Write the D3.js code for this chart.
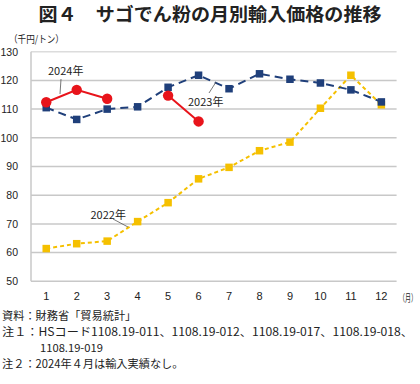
<!DOCTYPE html>
<html><head><meta charset="utf-8">
<script src="https://cdn.jsdelivr.net/npm/d3@7"></script>
<style>body{margin:0;background:#fff;}svg{display:block;font-family:"Noto Sans CJK JP","Noto Sans",sans-serif;}</style>
</head><body>
<script>
const months = [1,2,3,4,5,6,7,8,9,10,11,12];
const yTicks = [50,60,70,80,90,100,110,120,130];
const s2022 = [61.4,63.1,64.0,70.8,77.4,85.7,89.7,95.5,98.5,110.3,121.8,111.5];
const s2023 = [110.5,106.4,110.0,110.8,117.6,121.8,117.1,122.3,120.4,119.1,116.7,112.5];
const s2024 = [112.4,116.7,113.6,null,114.7,105.7,null,null,null,null,null,null];
const title = "図４　サゴでん粉の月別輸入価格の推移";
const notes = ["資料：財務省「貿易統計」","注１：HSコード1108.19-011、1108.19-012、1108.19-017、1108.19-018、","1108.19-019","注２：2024年４月は輸入実績なし。"];

const W=420,H=384;
const svg=d3.select("body").append("svg").attr("width",W).attr("height",H);
const L=31,R=396.6,T=51.7,B=281.3;
const x=d3.scaleBand().domain(months).range([L,R]);
const xc=m=>x(m)+x.bandwidth()/2;
const y=d3.scaleLinear().domain([50,130]).range([B,T]);

svg.append("text").attr("x",210).attr("y",21).attr("text-anchor","middle")
  .attr("font-size",18.5).attr("font-weight","bold").attr("fill","#222")
  .attr("textLength",343).attr("lengthAdjust","spacingAndGlyphs").text(title);
svg.append("text").attr("transform","translate(9,43) scale(0.86,1)").attr("font-size",10).attr("fill","#222")
  .text("（千円/トン）");

// grid
svg.append("g").selectAll("line").data(yTicks).join("line")
  .attr("x1",L).attr("x2",R).attr("y1",d=>y(d)).attr("y2",d=>y(d))
  .attr("stroke",d=>d===130?"#dcdcdc":"#c8c8c8").attr("stroke-width",1.5);
svg.append("line").attr("x1",L).attr("x2",L).attr("y1",T).attr("y2",B).attr("stroke","#c8c8c8").attr("stroke-width",1.5);

// y axis labels
const ya=svg.append("g").attr("transform",`translate(${L},0)`)
  .call(d3.axisLeft(y).tickValues(yTicks).tickSize(0).tickPadding(13));
ya.select(".domain").remove();
ya.selectAll("text").attr("font-size",10.5).attr("fill","#222").attr("font-family","Liberation Sans,Arial,sans-serif");

// x axis labels
const xa=svg.append("g").attr("transform",`translate(0,${B})`)
  .call(d3.axisBottom(x).tickSize(0).tickPadding(11));
xa.select(".domain").remove();
xa.selectAll("text").attr("font-size",11).attr("fill","#222").attr("font-family","Liberation Sans,Arial,sans-serif");
svg.append("text").attr("transform","translate(399,301.5) scale(0.6,1)").attr("font-size",10).attr("fill","#222")
  .text("（月）");

function series(data,color,dash,marker){
  const g=svg.append("g");
  const line=d3.line().defined(d=>d!=null).x((d,i)=>xc(months[i])).y(d=>y(d));
  g.append("path").datum(data).attr("d",line).attr("fill","none").attr("stroke",color)
    .attr("stroke-width",2).attr("stroke-dasharray",dash);
  const pts=data.map((d,i)=>({m:months[i],v:d})).filter(d=>d.v!=null);
  if(marker==="circle"){
    g.selectAll("circle").data(pts).join("circle").attr("cx",d=>xc(d.m)).attr("cy",d=>y(d.v)).attr("r",5.2).attr("fill",color);
  } else {
    const s=7.5;
    g.selectAll("rect").data(pts).join("rect").attr("x",d=>xc(d.m)-s/2).attr("y",d=>y(d.v)-s/2).attr("width",s).attr("height",s).attr("fill",color);
  }
}
series(s2022,"#f5c000","4,3","square");
series(s2023,"#1f3f7a","8,5","square");
series(s2024,"#e8141b",null,"circle");

// labels
function lab(t,tx,ty,x1,y1,x2,y2){
  svg.append("text").attr("x",tx).attr("y",ty).attr("font-size",11).attr("fill","#222").text(t);
  svg.append("line").attr("x1",x1).attr("y1",y1).attr("x2",x2).attr("y2",y2).attr("stroke","#555").attr("stroke-width",0.8);
}
lab("2024年",48,75,61,79,60,94);
lab("2023年",188,106,209,93,216,82);
lab("2022年",90.5,219,113,219,128,227);

// notes
const nx=[2,2,40,2], ny=[319.5,335.5,351.5,367.5];
notes.forEach((t,i)=>{
  const tx=svg.append("text").attr("x",nx[i]).attr("y",ny[i]).attr("font-size",11.2).attr("fill","#222").text(t);
  if(i===1) tx.attr("textLength",411).attr("lengthAdjust","spacingAndGlyphs");
});
</script>
</body></html>
